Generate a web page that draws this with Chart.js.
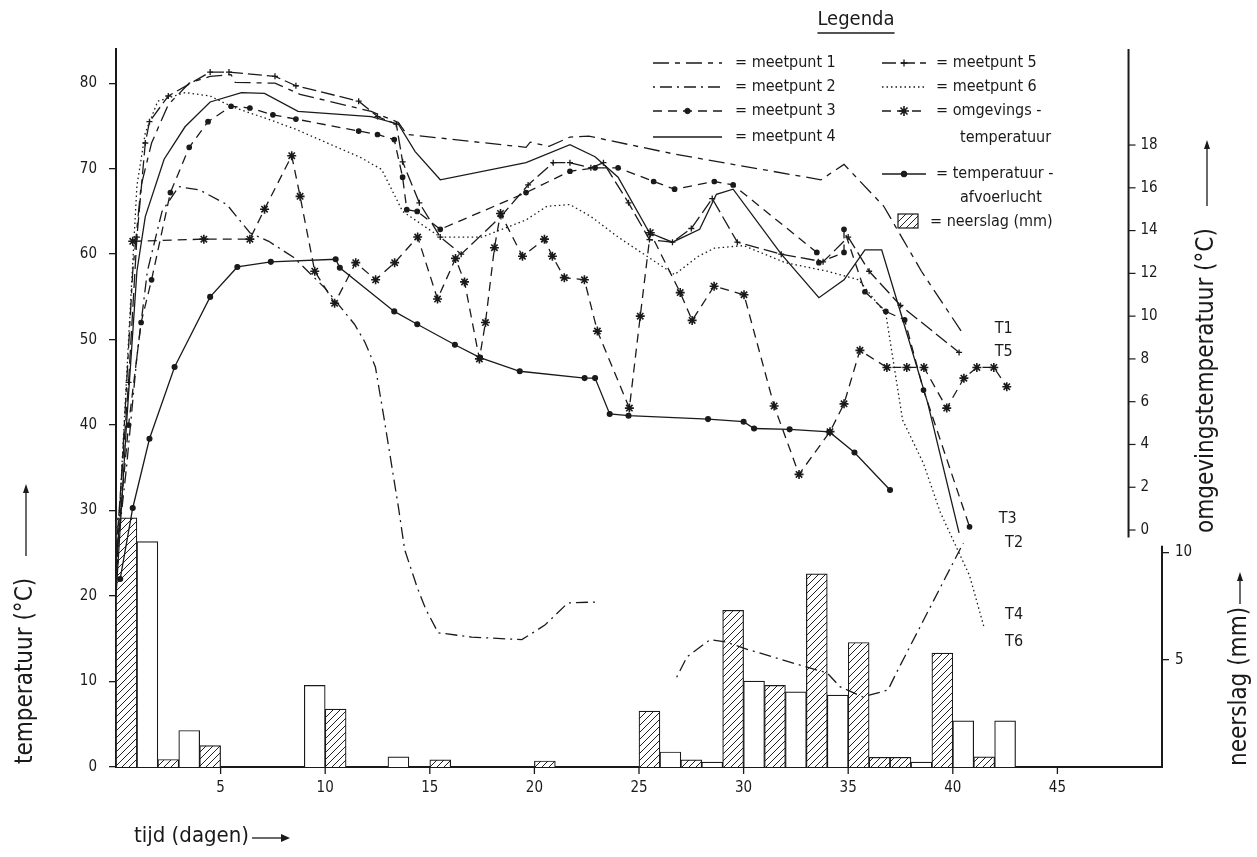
<!DOCTYPE html>
<html>
<head>
<meta charset="utf-8">
<script src="https://cdn.jsdelivr.net/npm/chart.js@4/dist/chart.umd.min.js"></script>
<style>
  html, body { margin: 0; padding: 0; background: #fff; }
</style>
</head>
<body>
<canvas id="chart" width="1257" height="857"></canvas>
<script>
const ink = '#1a1a1a';
const family = "'DejaVu Sans Condensed', 'Liberation Sans Narrow', 'DejaVu Sans', sans-serif";

// assen
const dayTicks = [5, 10, 15, 20, 25, 30, 35, 40, 45];
const tempTicks = [0, 10, 20, 30, 40, 50, 60, 70, 80];
const omgTicks = [0, 2, 4, 6, 8, 10, 12, 14, 16, 18];
const rainTicks = [5, 10];

// neerslag (mm) per dag, gearceerd
const rainDays = [0, 2, 4, 10, 15, 20, 25, 27, 29, 31, 33, 35, 36, 37, 39, 41];
const rainMm = [11.6, 0.35, 1.0, 2.7, 0.33, 0.28, 2.6, 0.33, 7.3, 3.8, 9.0, 5.8, 0.45, 0.45, 5.3, 0.47];
// open staven
const openDays = [1, 3, 9, 13, 26, 28, 30, 32, 34, 38, 40, 42];
const openMm = [10.5, 1.7, 3.8, 0.47, 0.7, 0.23, 4.0, 3.5, 3.35, 0.23, 2.15, 2.15];

// meetpunten (temperatuur, °C)
const m1Day = [0, 0.4, 0.8, 1.2, 1.7, 2.5, 3.5, 4.5, 5.5, 5.7, 7.6, 8.8, 12.2, 13.5, 13.9, 19.6, 19.8, 20.7, 21.7, 22.6, 26.7, 33.7, 34.8, 36.7, 38.5, 40.4];
const m1Temp = [22, 40, 58, 68, 73, 77.5, 80, 80.8, 81, 80.1, 80, 78.7, 76.7, 75.4, 74, 72.5, 73.1, 72.6, 73.7, 73.8, 71.7, 68.7, 70.5, 65.6, 58, 51];

const m2Day = [0, 0.5, 1.0, 1.5, 2.2, 3.0, 4.0, 5.3, 6.4, 7.3, 8.5, 10, 11.4, 11.9, 12.4, 12.8, 13.5, 13.8, 14.4, 14.8, 15.4, 17, 19.4, 20.5, 21.6, 22.9, 24.5, 26.8, 27.3, 28.4, 29.2, 30, 33, 34, 34.6, 35.7, 36.9, 37.3, 40.5];
const m2Temp = [24, 35, 48, 58, 65, 67.9, 67.5, 65.8, 62.5, 61.5, 59.6, 56, 51.8, 49.7, 46.8, 41, 30.4, 25.4, 21, 18.5, 15.7, 15.2, 14.9, 16.6, 19.2, 19.3, null, 10.5, 12.9, 14.9, 14.6, 13.9, 11.7, 11, 9.4, 8.2, 9.0, 11, 26.2];

const m3Day = [0, 0.6, 1.2, 1.7, 2.6, 3.5, 4.4, 5.5, 6.4, 7.5, 8.6, 11.6, 12.5, 13.3, 13.7, 13.9, 14.4, 15.5, 19.6, 21.7, 22.9, 24.0, 25.7, 26.7, 28.6, 29.5, 33.5, 33.6, 34.8, 34.8, 35.8, 36.8, 37.7, 38.6, 40.8];
const m3Temp = [24, 40, 52, 57, 67.2, 72.5, 75.5, 77.3, 77.1, 76.3, 75.8, 74.4, 74, 73.4, 69, 65.2, 65, 62.9, 67.2, 69.7, 70.1, 70.1, 68.5, 67.6, 68.5, 68.1, 60.2, 59, 60.2, 62.9, 55.6, 53.3, 52.3, 44.1, 28.1];

const m4Day = [0, 0.5, 1, 1.4, 2.3, 3.3, 4.5, 6.0, 7.1, 8.7, 12.2, 13.5, 14.3, 15.5, 19.6, 21.7, 22.9, 24.0, 25.5, 26.6, 27.9, 28.7, 29.5, 31.8, 33.6, 34.8, 35.8, 36.6, 37.5, 38.8, 40.3];
const m4Temp = [20, 40, 58, 64.4, 71.1, 74.9, 77.8, 78.9, 78.8, 76.7, 76.1, 75.2, 72, 68.7, 70.7, 72.8, 71.4, 69, 62.5, 61.4, 62.9, 67.0, 67.6, 60, 54.9, 57, 60.5, 60.5, 53.2, 42.6, 27.4];

const m5Day = [0, 0.6, 1, 1.4, 1.6, 2.5, 4.5, 5.4, 7.6, 8.6, 11.6, 12.5, 13.4, 13.7, 14.5, 15.5, 16.5, 18.4, 19.7, 20.9, 21.7, 22.7, 23.3, 24.5, 25.5, 26.6, 27.5, 28.5, 29.7, 31.8, 33.8, 35, 36, 37.5, 40.3];
const m5Temp = [25, 45, 62, 73, 75.5, 78.5, 81.3, 81.3, 80.8, 79.7, 77.9, 76.1, 75.2, 70.8, 66, 62, 60, 64.4, 68.1, 70.7, 70.7, 70.1, 70.7, 66, 61.7, 61.4, 63, 66.5, 61.4, 60, 59.1, 62, 58, 54, 48.5];

const m6Day = [0, 0.6, 1.0, 1.4, 2.0, 3.3, 4.5, 5.5, 7.6, 8.6, 11.7, 12.7, 13.7, 15.5, 17.5, 19.6, 20.6, 21.7, 22.7, 24, 26.7, 27.8, 28.6, 30, 32, 34, 35.5, 36.8, 37.6, 38.6, 39.4, 40.8, 41.5];
const m6Temp = [22, 50, 68, 74.2, 77.9, 78.9, 78.5, 77.3, 75.5, 74.6, 71.3, 69.9, 65, 62, 62, 64, 65.6, 65.8, 64.4, 62, 57.6, 59.7, 60.7, 61, 59, 58, 57, 53, 40.6, 35.5, 29.8, 22.4, 16.3];

// omgevingstemperatuur (°C, rechter as)
const omgDay = [0.8, 4.2, 6.4, 7.1, 8.4, 8.8, 9.5, 10.45, 11.46, 12.41, 13.32, 14.42, 15.37, 16.23, 16.66, 17.37, 17.66, 18.09, 18.38, 19.43, 20.48, 20.86, 21.43, 22.39, 23.01, 24.54, 25.06, 25.54, 26.97, 27.54, 28.59, 30.02, 31.46, 32.65, 34.13, 34.8, 35.56, 36.85, 37.8, 38.62, 39.71, 40.53, 41.15, 41.96, 42.58];
const omgTemp = [13.5, 13.6, 13.6, 15.0, 17.5, 15.6, 12.1, 10.6, 12.5, 11.7, 12.5, 13.7, 10.8, 12.7, 11.6, 8.0, 9.7, 13.2, 14.8, 12.8, 13.6, 12.8, 11.8, 11.7, 9.3, 5.7, 10.0, 13.9, 11.1, 9.8, 11.4, 11.0, 5.8, 2.6, 4.6, 5.9, 8.4, 7.6, 7.6, 7.6, 5.7, 7.1, 7.6, 7.6, 6.7];

// temperatuur afvoerlucht
const afvDay = [0.2, 0.8, 1.6, 2.8, 4.5, 5.8, 7.4, 10.5, 10.7, 13.3, 14.4, 16.2, 17.4, 19.3, 22.4, 22.9, 23.6, 24.5, 28.3, 30.0, 30.5, 32.2, 34.1, 35.3, 37.0];
const afvTemp = [22, 30.3, 38.4, 46.8, 55, 58.5, 59.1, 59.4, 58.4, 53.3, 51.8, 49.4, 47.9, 46.3, 45.5, 45.5, 41.3, 41.1, 40.7, 40.4, 39.6, 39.5, 39.2, 36.8, 32.4];

// eindlabels
const endLabels = ['T1', 'T5', 'T3', 'T2', 'T4', 'T6'];
const endDay = [42.0, 42.0, 42.2, 42.5, 42.5, 42.5];
const endTemp = [51.3, 48.6, 29.0, 26.2, 17.8, 14.6];

const omgAxisDay = 48.4;

function pts(days, vals) { return days.map((d, i) => ({ x: d, y: vals[i] })); }
function bars(days, vals) { return days.map((d, i) => ({ x: d + 0.5, y: vals[i] })); }

function hatchPattern() {
  const c = document.createElement('canvas');
  c.width = 7; c.height = 7;
  const g = c.getContext('2d');
  g.fillStyle = '#fff';
  g.fillRect(0, 0, 7, 7);
  g.strokeStyle = '#222';
  g.lineWidth = 1;
  g.beginPath();
  g.moveTo(-1, 8); g.lineTo(8, -1);
  g.moveTo(-1, 1); g.lineTo(1, -1);
  g.moveTo(6, 8); g.lineTo(8, 6);
  g.stroke();
  return g.createPattern(c, 'repeat');
}

const line = { type: 'line', borderColor: ink, backgroundColor: ink, borderWidth: 1.3, fill: false, tension: 0, pointRadius: 0, pointHoverRadius: 0, yAxisID: 'y', order: 1 };

const datasets = [
  { ...line, label: 'meetpunt 1', data: pts(m1Day, m1Temp), borderDash: [16, 6, 5, 6] },
  { ...line, label: 'meetpunt 2', data: pts(m2Day, m2Temp), borderDash: [2, 5, 12, 5] },
  { ...line, label: 'meetpunt 3', data: pts(m3Day, m3Temp), borderDash: [9, 6], pointRadius: 2.2, pointStyle: 'circle' },
  { ...line, label: 'meetpunt 4', data: pts(m4Day, m4Temp) },
  { ...line, label: 'meetpunt 5', data: pts(m5Day, m5Temp), borderDash: [14, 5], pointRadius: 3, pointStyle: 'cross', pointBorderWidth: 1.3 },
  { ...line, label: 'meetpunt 6', data: pts(m6Day, m6Temp), borderDash: [1.5, 3] },
  { ...line, label: 'omgevingstemperatuur', data: pts(omgDay, omgTemp), yAxisID: 'yOmg', borderDash: [9, 6], pointRadius: 4.5, pointStyle: 'star', pointBorderWidth: 1.6 },
  { ...line, label: 'temperatuur afvoerlucht', data: pts(afvDay, afvTemp), pointRadius: 2.4, pointStyle: 'circle' },
  { type: 'bar', label: 'neerslag (mm)', data: bars(rainDays, rainMm), yAxisID: 'yRain', backgroundColor: hatchPattern(), borderColor: ink, borderWidth: 1.2, grouped: false, barPercentage: 1, categoryPercentage: 1, order: 5 },
  { type: 'bar', label: 'open', data: bars(openDays, openMm), yAxisID: 'yRain', backgroundColor: '#fff', borderColor: ink, borderWidth: 1.2, grouped: false, barPercentage: 1, categoryPercentage: 1, order: 5 }
];

function vText(ctx, text, x, y, size) {
  ctx.save();
  ctx.translate(x, y);
  ctx.rotate(-Math.PI / 2);
  ctx.font = size + 'px ' + family;
  ctx.textAlign = 'left';
  ctx.textBaseline = 'middle';
  ctx.fillText(text, 0, 0);
  ctx.restore();
}

function arrowUp(ctx, x, y1, y2) {
  ctx.beginPath(); ctx.moveTo(x, y1); ctx.lineTo(x, y2 + 6); ctx.stroke();
  ctx.beginPath(); ctx.moveTo(x, y2); ctx.lineTo(x - 3, y2 + 9); ctx.lineTo(x + 3, y2 + 9); ctx.closePath(); ctx.fill();
}

const decor = {
  id: 'decor',
  afterDraw(chart) {
    const { ctx, chartArea, scales: { x, y, yOmg, yRain } } = chart;
    ctx.save();
    ctx.strokeStyle = ink;
    ctx.fillStyle = ink;

    // tijd-as streepjes
    ctx.lineWidth = 1.3;
    dayTicks.forEach(v => {
      const px = x.getPixelForValue(v);
      ctx.beginPath(); ctx.moveTo(px, chartArea.bottom); ctx.lineTo(px, chartArea.bottom + 7); ctx.stroke();
    });

    // rechter as omgevingstemperatuur
    const ax = x.getPixelForValue(omgAxisDay);
    ctx.lineWidth = 2;
    ctx.beginPath(); ctx.moveTo(ax, yOmg.getPixelForValue(-0.35)); ctx.lineTo(ax, chartArea.top); ctx.stroke();
    ctx.lineWidth = 1.2;
    ctx.font = '15px ' + family;
    ctx.textAlign = 'left'; ctx.textBaseline = 'middle';
    omgTicks.forEach(v => {
      const py = yOmg.getPixelForValue(v);
      ctx.beginPath(); ctx.moveTo(ax, py); ctx.lineTo(ax + 7, py); ctx.stroke();
      ctx.fillText(String(v), ax + 12, py);
    });

    // as neerslag
    ctx.lineWidth = 2;
    ctx.beginPath(); ctx.moveTo(x.right, yRain.getPixelForValue(0)); ctx.lineTo(x.right, yRain.getPixelForValue(10.3)); ctx.stroke();

    // astitels
    ctx.lineWidth = 1.3;
    vText(ctx, 'temperatuur (°C)', 26, 764, 24);
    arrowUp(ctx, 26, 556, 484);
    vText(ctx, 'omgevingstemperatuur (°C)', 1207, 533, 24);
    arrowUp(ctx, 1207, 206, 140);
    vText(ctx, 'neerslag (mm)', 1240, 766, 24);
    arrowUp(ctx, 1240, 604, 572);

    ctx.font = '22px ' + family;
    ctx.textAlign = 'left'; ctx.textBaseline = 'middle';
    ctx.fillText('tijd (dagen)', 134, 836);
    ctx.beginPath(); ctx.moveTo(252, 838); ctx.lineTo(282, 838); ctx.stroke();
    ctx.beginPath(); ctx.moveTo(290, 838); ctx.lineTo(281, 834); ctx.lineTo(281, 842); ctx.closePath(); ctx.fill();

    // eindlabels
    ctx.font = '16px ' + family;
    endLabels.forEach((t, i) => {
      ctx.fillText(t, x.getPixelForValue(endDay[i]), y.getPixelForValue(endTemp[i]));
    });

    // legenda
    ctx.font = '20px ' + family;
    ctx.textAlign = 'center';
    ctx.fillText('Legenda', 856, 20);
    const lw = ctx.measureText('Legenda').width;
    ctx.lineWidth = 1.5;
    ctx.beginPath(); ctx.moveTo(856 - lw / 2, 33); ctx.lineTo(856 + lw / 2, 33); ctx.stroke();

    const ds = chart.data.datasets;
    const rows = [
      [0, 653, 722, 63, '= meetpunt 1', 735],
      [1, 653, 722, 87, '= meetpunt 2', 735],
      [2, 653, 722, 111, '= meetpunt 3', 735],
      [3, 653, 722, 137, '= meetpunt 4', 735],
      [4, 882, 926, 63, '= meetpunt 5', 936],
      [5, 882, 926, 87, '= meetpunt 6', 936],
      [6, 882, 926, 111, '= omgevings -', 936],
      [7, 882, 926, 174, '= temperatuur -', 936]
    ];
    ctx.font = '16px ' + family;
    ctx.textAlign = 'left';
    rows.forEach(([i, x1, x2, ly, text, tx]) => {
      const d = ds[i];
      ctx.save();
      ctx.lineWidth = 1.3;
      ctx.setLineDash(d.borderDash || []);
      ctx.beginPath(); ctx.moveTo(x1, ly); ctx.lineTo(x2, ly); ctx.stroke();
      ctx.restore();
      if (d.pointRadius) {
        ctx.lineWidth = d.pointBorderWidth || 1;
        Chart.helpers.drawPoint(ctx, { pointStyle: d.pointStyle, radius: d.pointRadius + 0.5, rotation: 0, borderWidth: ctx.lineWidth }, (x1 + x2) / 2, ly);
      }
      ctx.fillText(text, tx, ly);
    });
    ctx.fillText('temperatuur', 960, 138);
    ctx.fillText('afvoerlucht', 960, 198);
    ctx.fillStyle = ds[8].backgroundColor;
    ctx.fillRect(898, 214, 20, 14);
    ctx.lineWidth = 1.2;
    ctx.strokeRect(898, 214, 20, 14);
    ctx.fillStyle = ink;
    ctx.fillText('= neerslag (mm)', 930, 222);
    ctx.restore();
  }
};

const tickFont = { family: family, size: 15 };

new Chart(document.getElementById('chart').getContext('2d'), {
  type: 'line',
  data: { datasets },
  plugins: [decor],
  options: {
    responsive: false,
    animation: false,
    events: [],
    layout: { padding: { top: 49, left: 0, right: 0, bottom: 0 } },
    plugins: { legend: { display: false }, tooltip: { enabled: false } },
    scales: {
      x: {
        type: 'linear', min: 0, max: 50, offset: false,
        afterBuildTicks: s => { s.ticks = dayTicks.map(v => ({ value: v })); },
        ticks: { color: ink, font: tickFont, padding: 5, maxRotation: 0, autoSkip: false },
        grid: { offset: false, drawOnChartArea: false, tickLength: 7, color: 'rgba(0,0,0,0)' },
        border: { color: ink, width: 2 },
        afterFit: s => { s.height = 90; }
      },
      y: {
        type: 'linear', position: 'left', min: 0, max: 84,
        afterBuildTicks: s => { s.ticks = tempTicks.map(v => ({ value: v })); },
        ticks: { color: ink, font: tickFont, padding: 12 },
        grid: { drawOnChartArea: false, tickLength: 7, color: ink, lineWidth: 1.3 },
        border: { color: ink, width: 2 },
        afterFit: s => { s.width = 116; }
      },
      yOmg: { type: 'linear', display: false, min: -11.08, max: 22.49 },
      yRain: {
        type: 'linear', position: 'right', min: 0, max: 33.44,
        afterBuildTicks: s => { s.ticks = rainTicks.map(v => ({ value: v })); },
        ticks: { color: ink, font: tickFont, padding: 6 },
        grid: { drawOnChartArea: false, tickLength: 7, color: ink, lineWidth: 1.3 },
        border: { display: false },
        afterFit: s => { s.width = 95; }
      }
    }
  }
});
</script>
</body>
</html>
